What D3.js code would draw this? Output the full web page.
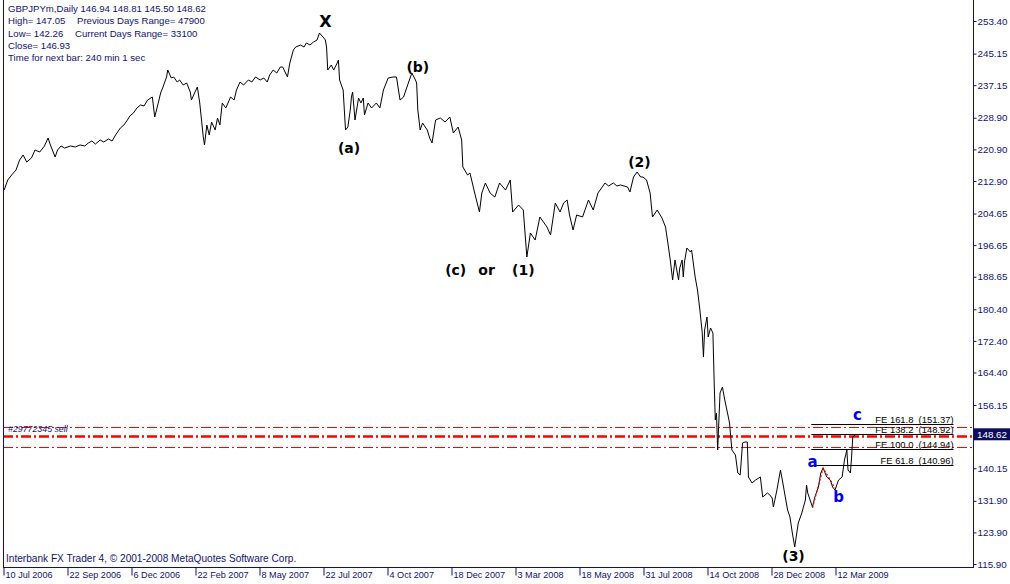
<!DOCTYPE html>
<html><head><meta charset="utf-8">
<script src="https://cdn.jsdelivr.net/npm/d3@7"></script>
<style>
html,body{margin:0;padding:0;background:#fff;}
svg{display:block;}
text{font-family:"Liberation Sans",Arial,sans-serif;}
</style></head><body>
<svg id="c" width="1010" height="584"></svg>
<script>
// ---- data ----
const barIndex = [1,4,8,11,14,17,20,24,27,31,35,38,40,44,46,49,52,57,61,65,69,72,75,78,82,85,89,92,95,99,102,105,107,110,113,116,119,122,126,128,131,133,135,138,139,142,144,147,149,152,155,158,159,162,164,166,169,170,172,174,176,179,181,183,185,188,192,195,197,200,203,207,210,213,217,220,223,225,228,231,234,236,240,242,245,247,251,254,256,259,262,265,267,270,272,273,274,277,279,282,283,284,287,289,291,293,294,295,297,300,302,304,305,308,311,315,318,321,325,329,332,335,338,340,342,345,348,349,350,352,354,358,360,362,365,369,373,377,380,384,387,388,392,394,398,402,404,407,411,415,419,424,428,430,435,439,442,445,449,453,456,459,462,466,470,473,476,478,481,484,489,494,498,502,505,508,511,515,518,521,524,527,529,532,535,538,540,543,546,548,552,556,559,561,563,565,567,570,571,573,574,575,577,580,581,584,586,588,590,591,592,594,595,597,599,600,601,602,603,605,607,609,612,613,615,618,620,622,624,626,628,629,632,635,639,641,645,647,649,650,653,656,658,662,664,666,668,671,674,677,678,679,683,685,688,690,692,695,698,700,702,705,708,710,712,713,715,716,717,719];
const closes = [210.60,213.14,214.66,215.67,218.20,219.47,217.69,218.71,220.73,220.23,221.75,223.77,222.00,218.96,220.73,221.75,221.24,221.75,221.49,222.00,221.75,222.51,223.01,222.25,223.27,222.76,223.52,223.01,224.53,226.30,227.06,228.33,229.34,230.10,231.37,232.13,231.88,233.39,234.15,229.09,232.64,235.17,236.69,239.22,240.99,238.97,239.22,237.95,238.46,237.19,237.70,235.42,233.39,235.42,236.69,232.64,224.03,222.00,227.06,224.53,227.82,225.80,228.84,227.06,232.64,231.37,234.15,233.39,235.93,237.95,237.19,238.46,237.95,239.22,238.46,238.97,237.95,239.73,240.99,240.23,241.75,241.75,239.22,242.76,246.06,246.82,247.32,246.82,247.83,247.32,248.08,248.59,250.36,249.35,248.59,246.82,240.99,242.26,240.99,242.76,243.52,238.46,235.93,225.80,226.56,230.86,234.15,235.42,228.33,233.90,232.64,233.90,229.60,232.64,231.37,232.64,231.37,235.93,238.97,239.22,239.22,233.39,234.15,235.93,237.70,240.23,238.46,237.70,230.86,225.80,227.57,225.80,223.77,222.51,228.33,228.84,227.82,229.09,225.04,226.56,223.27,216.43,214.40,214.91,209.84,205.03,209.84,212.38,209.84,208.83,212.38,210.60,213.14,205.03,206.81,205.54,193.64,199.72,197.94,203.77,202.50,201.23,199.21,207.31,205.03,207.31,208.07,204.27,200.47,204.27,203.77,208.07,205.54,209.84,211.11,212.38,211.62,212.38,211.62,211.87,211.62,211.36,210.10,213.90,215.16,213.90,213.90,213.14,209.84,203.77,205.54,203.51,201.23,197.18,192.88,187.81,192.88,187.81,190.85,192.88,188.57,192.37,195.92,194.90,195.41,188.57,185.28,180.22,174.39,168.31,175.15,178.44,173.38,175.66,174.39,162.49,152.36,154.13,144.76,159.20,160.72,157.43,153.12,151.60,144.76,143.50,138.94,138.43,146.54,146.79,146.79,137.93,136.41,137.17,137.93,132.86,133.88,133.37,132.61,130.33,134.64,139.70,136.41,129.57,127.80,123.75,120.20,126.28,128.81,132.10,135.90,133.88,130.33,132.86,135.39,138.94,140.21,137.93,137.17,135.39,134.64,137.17,137.93,142.23,144.76,139.70,138.94,142.99,148.06,148.62];

const timeTickBars = [0,54,108,162,216,270,324,378,432,486,540,594,648,702];
const timeTickLabels = ["10 Jul 2006","22 Sep 2006","6 Dec 2006","22 Feb 2007","8 May 2007","22 Jul 2007","4 Oct 2007","18 Dec 2007","3 Mar 2008","18 May 2008","31 Jul 2008","14 Oct 2008","28 Dec 2008","12 Mar 2009"];
const priceTicks = [253.40,245.15,237.15,228.90,220.90,212.90,204.65,196.65,188.65,180.40,172.40,164.40,156.15,140.15,131.90,123.90,115.90];
const lastClose = 148.62;

const orderLevels = [150.51, 148.39, 145.60];
const orderLabel = "#29772345 sell";

const feRatios = ["161.8","138.2","100.0","61.8"];
const feValues = [151.37,148.92,144.94,140.96];
const feBars = [682, 802];

const zigzagBars = [683, 692, 702];
const zigzagPrices = [130.08, 140.21, 135.14];

const waveText  = ["X","(a)","(b)","(c)","or","(1)","(2)","(3)","a","b","c"];
const waveBars  = [272,292,350,382,408,439,537,667,683,705,721];
const wavePrices= [251.88,219.97,240.49,189.09,189.09,189.09,216.43,116.66,140.46,131.60,152.36];
const waveBlue  = [false,false,false,false,false,false,false,false,true,true,true];

const infoRows = [
  ["GBPJPYm,Daily  146.94 148.81 145.50 148.62", ""],
  ["High= 147.05", "Previous Days Range= 47900"],
  ["Low= 142.26", "Current Days Range= 33100"],
  ["Close= 146.93", ""],
  ["Time for next bar: 240 min 1 sec", ""]
];
const footer = "Interbank FX Trader 4, \u00A9 2001-2008 MetaQuotes Software Corp.";

// ---- layout ----
const navy = "#12126a";
const L = 3, R = 973, B = 567;
const svg = d3.select("#c");
const x = d3.scaleLinear().domain([0, 702]).range([3, 835]);
const y = d3.scaleLinear().domain([115.9, 253.4]).range([564, 21]);

// order lines (red dash-dot)
svg.append("g").selectAll("line").data(orderLevels).join("line")
  .attr("x1", L).attr("x2", R)
  .attr("y1", d => Math.round(y(d)) + 0.5).attr("y2", d => Math.round(y(d)) + 0.5)
  .style("stroke", "#ff0000")
  .attr("stroke-width", (d, i) => i === 1 ? 2.5 : 1.2)
  .attr("stroke-dasharray", "10,3,2,3");

svg.append("text").attr("x", 8).attr("y", Math.round(y(orderLevels[0])) + 5)
  .attr("font-size", 8.8).attr("fill", navy).attr("font-style", "italic").text(orderLabel);

// FE levels
const fe = svg.append("g");
fe.selectAll("line").data(feValues).join("line")
  .attr("x1", x(feBars[0])).attr("x2", x(feBars[1]))
  .attr("y1", d => Math.round(y(d)) + 0.5).attr("y2", d => Math.round(y(d)) + 0.5)
  .attr("stroke", "#000").attr("stroke-width", 1);
fe.selectAll("text").data(feValues).join("text")
  .attr("x", x(feBars[1])).attr("y", d => Math.round(y(d)) - 1.5)
  .attr("text-anchor", "end").attr("font-size", 9.4).attr("fill", "#000")
  .style("white-space", "pre")
  .text((d, i) => "FE " + feRatios[i] + "  (" + d.toFixed(2) + ")");

// price line
const pts = barIndex.map((b, i) => [b, closes[i]]);
svg.append("path").datum(pts)
  .attr("fill", "none").attr("stroke", "#000").attr("stroke-width", 1)
  .attr("d", d3.line().x(d => x(d[0])).y(d => y(d[1])));

// zigzag red dotted
svg.append("path").datum(zigzagBars.map((b, i) => [b, zigzagPrices[i]]))
  .attr("fill", "none").style("stroke", "#ff0000").attr("stroke-width", 1.2)
  .attr("stroke-dasharray", "2,2")
  .attr("d", d3.line().x(d => x(d[0])).y(d => y(d[1])));

// wave labels
svg.append("g").selectAll("text").data(waveText).join("text")
  .attr("x", (d, i) => x(waveBars[i])).attr("y", (d, i) => y(wavePrices[i]))
  .attr("text-anchor", "middle")
  .style("font-family", "'DejaVu Sans',sans-serif").attr("font-weight", "bold")
  .attr("font-size", (d, i) => i === 0 ? 16 : (waveBlue[i] ? 15 : 14))
  .attr("fill", (d, i) => waveBlue[i] ? "#0000ee" : "#000")
  .text(d => d);

// frame
const frame = svg.append("g").attr("stroke", navy).attr("stroke-width", 1);
frame.append("line").attr("x1", L + 0.5).attr("x2", L + 0.5).attr("y1", 0).attr("y2", B);
frame.append("line").attr("x1", R + 0.5).attr("x2", R + 0.5).attr("y1", 0).attr("y2", B);
frame.append("line").attr("x1", L).attr("x2", R + 1).attr("y1", B + 0.5).attr("y2", B + 0.5);

// right axis
const ya = svg.append("g").attr("transform", `translate(${R + 0.5},0)`)
  .call(d3.axisRight(y).tickValues(priceTicks).tickSize(3).tickPadding(1).tickFormat(d3.format(".2f")));
ya.select(".domain").remove();
ya.selectAll("line").attr("stroke", navy);
ya.selectAll("text").attr("fill", navy).attr("font-size", 9.8)
  .style("font-family", "'Liberation Sans',Arial,sans-serif");

// last price box
const yc = y(lastClose);
svg.append("rect").attr("x", R + 1).attr("y", yc - 6.5).attr("width", 36).attr("height", 12).attr("fill", "#0d0d5e");
svg.append("text").attr("x", R + 4).attr("y", yc + 3.5).attr("fill", "#fff").attr("font-size", 9.8).text(lastClose.toFixed(2));

// bottom axis
const xa = svg.append("g").attr("transform", `translate(0,${B + 0.5})`)
  .call(d3.axisBottom(x).tickValues(timeTickBars).tickSize(8).tickFormat((d, i) => timeTickLabels[i]));
xa.select(".domain").remove();
xa.selectAll(".tick line").attr("stroke", navy).attr("transform", "translate(0.5,0)");
xa.selectAll(".tick text").attr("text-anchor", "start").attr("x", 2).attr("y", 4.5).attr("dy", "0.71em")
  .attr("fill", navy).attr("font-size", 9.1).style("font-family", "'Liberation Sans',Arial,sans-serif");

// info text
const info = svg.append("g").attr("fill", navy).attr("font-size", 9.6).style("white-space", "pre");
const rowY = [12, 24, 36.5, 48.5, 60.5];
infoRows.forEach((r, i) => {
  info.append("text").attr("x", 8).attr("y", rowY[i]).text(r[0]);
  if (r[1]) info.append("text").attr("x", i === 1 ? 77 : 75).attr("y", rowY[i]).text(r[1]);
});
svg.append("text").attr("x", 6).attr("y", 562).attr("fill", navy).attr("font-size", 10.1).text(footer);
</script>
</body></html>
